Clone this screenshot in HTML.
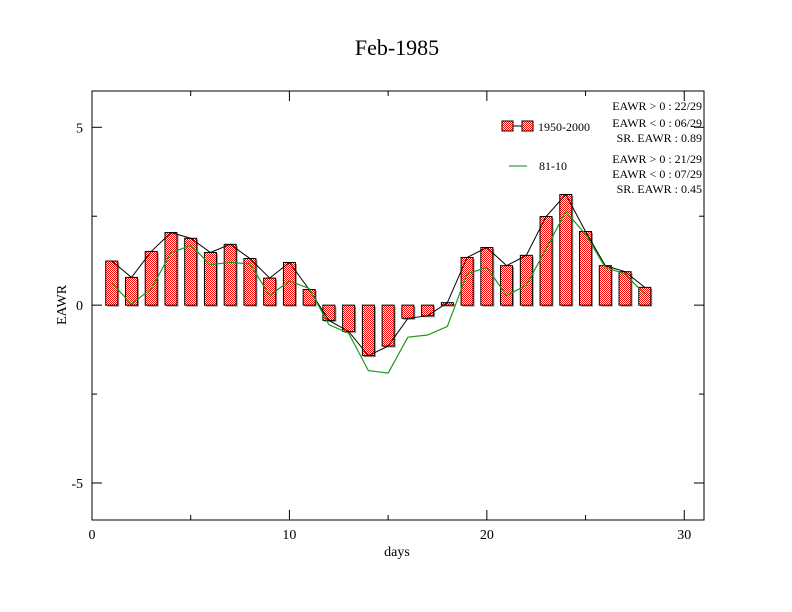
<!DOCTYPE html>
<html><head><meta charset="utf-8"><style>
body{margin:0;background:#fff}
svg{display:block;font-family:"Liberation Serif",serif}
</style></head><body>
<svg id="chart" width="792" height="612" viewBox="0 0 792 612" xmlns="http://www.w3.org/2000/svg">
<defs>
<pattern id="chk" width="2" height="2" patternUnits="userSpaceOnUse">
<rect width="2" height="2" fill="#fff"/><rect width="1" height="1" fill="#f00"/><rect x="1" y="1" width="1" height="1" fill="#f00"/>
</pattern>
</defs>
<rect width="792" height="612" fill="#fff"/>
<text x="397" y="55" font-size="22" text-anchor="middle">Feb-1985</text>
<g id="plot"></g>
<rect x="92" y="91" width="612" height="429" fill="none" stroke="#000" stroke-width="1"/>
<text x="397" y="556" font-size="14" text-anchor="middle">days</text>
<text x="0" y="0" font-size="14" text-anchor="middle" transform="translate(66,305) rotate(-90)">EAWR</text>
<g>
<line x1="507" y1="126" x2="528" y2="126" stroke="#000"/>
<rect x="502" y="121" width="11" height="10" fill="url(#chk)" stroke="#000"/>
<rect x="522" y="121" width="11" height="10" fill="url(#chk)" stroke="#000"/>
<text x="538" y="131" font-size="12">1950-2000</text>
<line x1="509" y1="166" x2="527" y2="166" stroke="#080" stroke-width="1"/>
<text x="539" y="170" font-size="12">81-10</text>
</g>
<g font-size="12" text-anchor="end">
<text x="702" y="110">EAWR &gt; 0 : 22/29</text>
<text x="702" y="127">EAWR &lt; 0 : 06/29</text>
<text x="702" y="142">SR. EAWR :  0.89</text>
<text x="702" y="163">EAWR &gt; 0 : 21/29</text>
<text x="702" y="178">EAWR &lt; 0 : 07/29</text>
<text x="702" y="193">SR. EAWR :  0.45</text>
</g>
</svg>
<script>
const days=[1,2,3,4,5,6,7,8,9,10,11,12,13,14,15,16,17,18,19,20,21,22,23,24,25,26,27,28];
const bars1950=[1.24,0.78,1.51,2.04,1.88,1.48,1.71,1.31,0.76,1.20,0.44,-0.43,-0.74,-1.42,-1.15,-0.37,-0.30,0.07,1.34,1.62,1.11,1.40,2.49,3.11,2.07,1.11,0.94,0.50];
const line8110=[0.62,0.03,0.46,1.47,1.68,1.14,1.20,1.16,0.27,0.68,0.47,-0.55,-0.79,-1.84,-1.91,-0.90,-0.84,-0.60,0.88,1.06,0.27,0.56,1.58,2.63,1.99,1.06,0.88,0.30];
const xTicks=[0,10,20,30];
const yTicks=[-5,0,5];
const NS="http://www.w3.org/2000/svg";
const X0=92,X1=704,Y0=91,Y1=520,XMIN=0,XMAX=31,YMIN=-6.04,YMAX=6.02;
function sx(v){return X0+(v-XMIN)/(XMAX-XMIN)*(X1-X0);}
function sy(v){return Y1-(v-YMIN)/(YMAX-YMIN)*(Y1-Y0);}
const g=document.getElementById('plot');
function mk(t,a){const e=document.createElementNS(NS,t);for(const k in a)e.setAttribute(k,a[k]);g.appendChild(e);return e;}
// ticks
for(let v=0;v<=31;v+=5){const major=v%10===0;const L=major?10:5;const x=sx(v);
 const t1=mk('line',{x1:x,y1:Y1,x2:x,y2:Y1-L,stroke:'#000'});
 
 
 const t2=mk('line',{x1:x,y1:Y0,x2:x,y2:Y0+L,stroke:'#000'});
 
 }
for(let v=-5;v<=5;v+=2.5){const major=v%5===0;const L=major?10:5;const y=sy(v);
 const t1=mk('line',{x1:X0,y1:y,x2:X0+L,y2:y,stroke:'#000'});
 
 
 const t2=mk('line',{x1:X1,y1:y,x2:X1-L,y2:y,stroke:'#000'});
 
 }
xTicks.forEach(v=>{const t=mk('text',{x:sx(v),y:Y1+19,'font-size':14,'text-anchor':'middle'});t.textContent=v;
 
 });
yTicks.forEach(v=>{const t=mk('text',{x:X0-9,y:sy(v)+5,'font-size':14,'text-anchor':'end'});t.textContent=v;
 
 });
// bars
const BW=12;
days.forEach((d,i)=>{const v=bars1950[i];const x=sx(d)-BW/2;const y=Math.min(sy(v),sy(0));const h=Math.abs(sy(v)-sy(0));
 const sh=mk('rect',{x:x+1.5,y:y+1.5,width:BW,height:h,fill:'#999'});
 
 
 const r=mk('rect',{x:x,y:y,width:BW,height:h,fill:'url(#chk)',stroke:'#000','stroke-width':1});
 
 });
// black line through bar tops
const p1=mk('polyline',{points:days.map((d,i)=>sx(d)+','+sy(bars1950[i])).join(' '),fill:'none',stroke:'#000','stroke-width':1});


const p2=mk('polyline',{points:days.map((d,i)=>sx(d)+','+sy(line8110[i])).join(' '),fill:'none',stroke:'#1a9a1a','stroke-width':1.2});


</script>
</body></html>
